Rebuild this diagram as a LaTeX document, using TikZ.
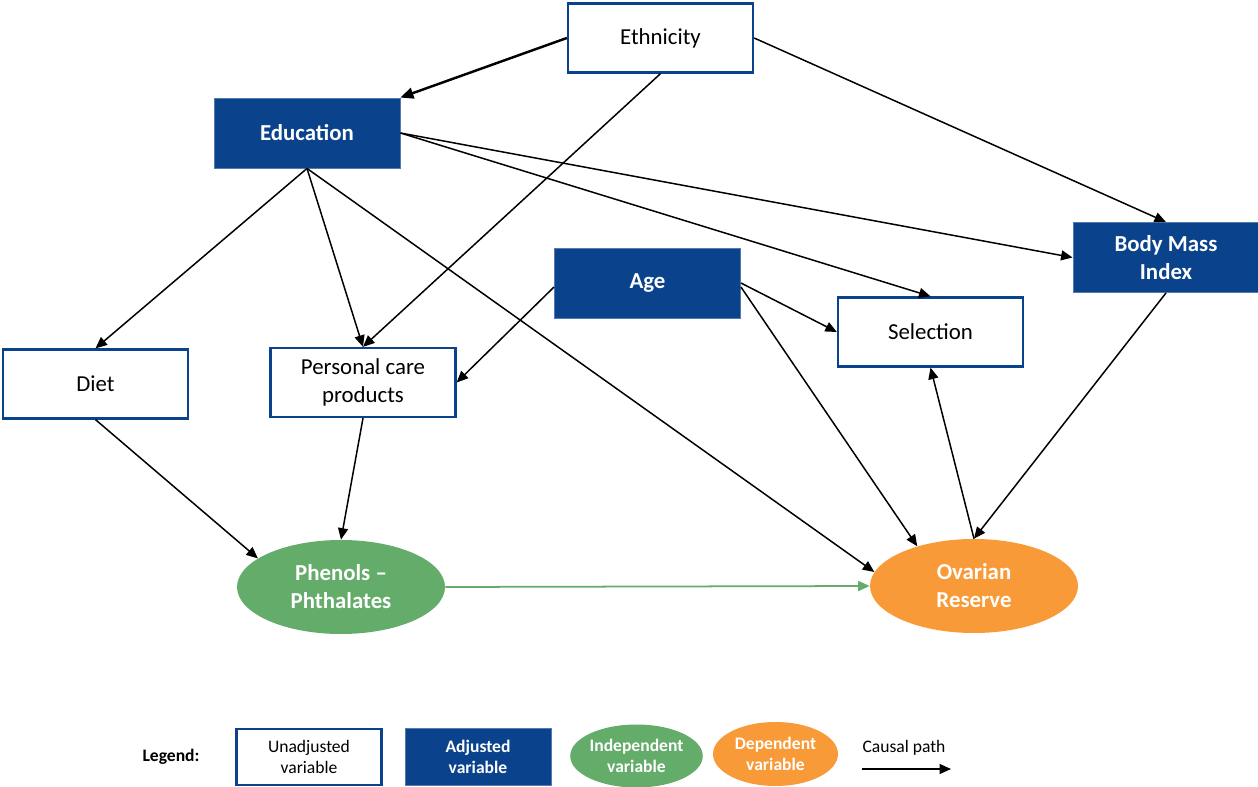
\documentclass[tikz,border=0pt]{standalone}
\usepackage{fontspec}
\setmainfont{Carlito}
\usepackage{tikz}
\usetikzlibrary{arrows.meta,positioning,calc,shapes.geometric}
\definecolor{adjblue}{HTML}{0A428C}
\definecolor{indgreen}{HTML}{64AC6A}
\definecolor{deporange}{HTML}{F99A38}

\begin{document}
\begin{tikzpicture}[
  unadj/.style={draw=adjblue,line width=1.3pt,fill=white,minimum width=3.7cm,minimum height=1.38cm,align=center,font=\fontsize{13}{16}\selectfont},
  adj/.style={draw=adjblue!70,line width=0.5pt,fill=adjblue,text=white,minimum width=3.72cm,minimum height=1.4cm,align=center,font=\fontsize{13}{16}\selectfont\bfseries},
  indep/.style={ellipse,fill=indgreen,text=white,minimum width=4.16cm,minimum height=1.88cm,align=center,inner sep=0pt,font=\fontsize{13}{16}\selectfont\bfseries},
  dep/.style={ellipse,fill=deporange,text=white,minimum width=4.16cm,minimum height=1.88cm,align=center,inner sep=0pt,font=\fontsize{13}{16}\selectfont\bfseries},
  causal/.style={-{Triangle[length=2.3mm,width=2mm]},line width=0.85pt,black},
  strong/.style={-{Triangle[length=2.6mm,width=2.2mm]},line width=1.4pt,black},
  effect/.style={-{Triangle[length=2.3mm,width=2mm]},line width=1pt,indgreen},
  legtxt/.style={font=\fontsize{10}{12}\selectfont,align=center}]
 \useasboundingbox (0,0) rectangle (25.16,-15.74);
 % variables
 \node[unadj] (eth) at (13.21,-0.76) {Ethnicity};
 \node[adj] (edu) at (6.14,-2.66) {Education};
 \node[adj] (age) at (12.95,-5.66) {Age};
 \node[adj] (bmi) at (23.32,-5.15) {Body Mass\\Index};
 \node[unadj] (sel) at (18.61,-6.64) {Selection};
 \node[unadj] (diet) at (1.91,-7.68) {Diet};
 \node[unadj] (pcp) at (7.26,-7.65) {Personal care\\products};
 \node[indep] (phen) at (6.82,-11.74) {Phenols --\\Phthalates};
 \node[dep] (ov) at (19.48,-11.72) {Ovarian\\Reserve};
 % paths
 \draw[strong] (eth.west) -- (edu.north east);
 \draw[causal] (eth.south) -- (pcp.north);
 \draw[causal] (eth.east) -- (bmi.north);
 \draw[causal] (edu.south) -- (diet.north);
 \draw[causal] (edu.south) -- (pcp.north);
 \draw[causal] (edu.south) -- (ov.172);
 \draw[causal] (edu.east) -- (sel.north);
 \draw[causal] (edu.east) -- (bmi.west);
 \draw[causal] ([yshift=-0.08cm]age.west) -- (pcp.east);
 \draw[causal] (age.east) -- (sel.west);
 \draw[causal] ([yshift=-0.08cm]age.east) -- (ov.145);
 \draw[causal] (ov.north) -- (sel.south);
 \draw[causal] (bmi.south) -- (ov.north);
 \draw[causal] (diet.south) -- (phen.161);
 \draw[causal] (pcp.south) -- (phen.north);
 \draw[effect] (phen.east) -- (ov.west);
 % legend
 \node[font=\fontsize{10}{12}\selectfont\bfseries] (leg) at (3.42,-15.14) {Legend:};
 \node[unadj,minimum width=2.9cm,minimum height=1.12cm,legtxt] (l1) at (6.18,-15.14) {Unadjusted\\variable};
 \node[adj,minimum width=2.92cm,minimum height=1.14cm,legtxt,font=\fontsize{10}{12}\selectfont\bfseries] (l2) at (9.56,-15.13) {Adjusted\\variable};
 \node[indep,minimum width=2.54cm,minimum height=1.26cm,font=\fontsize{10}{12}\selectfont\bfseries] (l3) at (12.73,-15.12) {Independent\\variable};
 \node[dep,minimum width=2.5cm,minimum height=1.28cm,font=\fontsize{10}{12}\selectfont\bfseries] (l4) at (15.51,-15.08) {Dependent\\variable};
 \node[legtxt] (l5) at (18.08,-14.96) {Causal path};
 \coordinate (ls) at (17.24,-15.38);
 \coordinate (le) at (19.02,-15.38);
 \draw[causal] (ls) -- (le);
\end{tikzpicture}
\end{document}
